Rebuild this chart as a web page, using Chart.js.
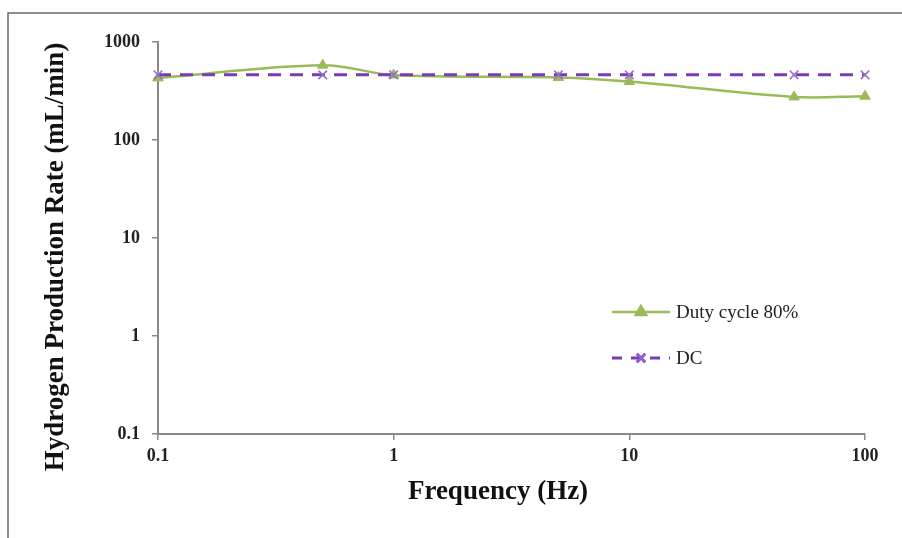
<!DOCTYPE html>
<html>
<head>
<meta charset="utf-8">
<script src="https://cdn.jsdelivr.net/npm/chart.js@4.4.1/dist/chart.umd.min.js"></script>
<style>
  html, body { margin: 0; padding: 0; background: #fff; }
  #wrap { position: relative; width: 902px; height: 538px; }
</style>
</head>
<body>
<div id="wrap"><canvas id="myChart" width="902" height="538"></canvas></div>
<script>
"use strict";

////// data
const frequency = [0.1, 0.5, 1, 5, 10, 50, 100];
const dutyCycle80 = [430, 580, 460, 435, 395, 275, 280];
const dcRate = [462, 462, 462, 462, 462, 462, 462];
const yTicks = [0.1, 1, 10, 100, 1000];
const xTicks = [0.1, 1, 10, 100];

const green = "#9BBB59";
const purple = "#7A3CB4";
const axisGray = "#8a8a8a";
const serif = "'Liberation Serif', 'Times New Roman', serif";

const toPoints = (xs, ys) => xs.map((x, i) => ({ x: x, y: ys[i] }));

////// frame, axis titles and legend drawn on the canvas
const extras = {
  id: "extras",
  beforeDraw(chart) {
    const c = chart.ctx;
    c.save();
    c.strokeStyle = "#6b6b6b";
    c.lineWidth = 1.5;
    c.beginPath();
    c.moveTo(8, 538);
    c.lineTo(8, 13);
    c.lineTo(902, 13);
    c.stroke();
    c.restore();
  },
  afterDraw(chart) {
    const c = chart.ctx;
    c.save();
    c.fillStyle = "#111";
    c.font = "bold 27px " + serif;
    c.textAlign = "center";
    c.textBaseline = "middle";
    c.fillText("Frequency (Hz)", 498, 492);

    c.translate(56, 257);
    c.rotate(-Math.PI / 2);
    c.fillText("Hydrogen Production Rate (mL/min)", 0, 0);
    c.restore();

    // legend
    const sets = chart.data.datasets;
    const rows = [312, 358];
    sets.forEach((ds, i) => {
      const y = rows[i];
      c.save();
      c.strokeStyle = ds.borderColor;
      c.lineWidth = ds.borderWidth;
      if (ds.borderDash) c.setLineDash([10, 9]);
      c.beginPath();
      c.moveTo(612, y);
      c.lineTo(670, y);
      c.stroke();
      c.setLineDash([]);
      Chart.helpers.drawPoint(c, {
        pointStyle: ds.pointStyle,
        radius: ds.pointRadius,
        borderWidth: ds.pointBorderWidth,
        rotation: 0
      }, 641, y);
      c.fillStyle = ds.pointBackgroundColor;
      c.strokeStyle = ds.pointBorderColor;
      c.lineWidth = ds.pointBorderWidth;
      c.fill();
      c.stroke();
      c.fillStyle = "#222";
      c.font = "19px " + serif;
      c.textAlign = "left";
      c.textBaseline = "middle";
      c.fillText(ds.label, 676, y + 1);
      c.restore();
    });
  }
};

const ctx = document.getElementById("myChart");

new Chart(ctx, {
  type: "line",
  data: {
    datasets: [
      {
        label: "Duty cycle 80%",
        data: toPoints(frequency, dutyCycle80),
        order: 2,
        clip: false,
        borderColor: green,
        backgroundColor: green,
        borderWidth: 2.5,
        tension: 0.35,
        pointStyle: "triangle",
        pointRadius: 6,
        pointBorderWidth: 1,
        pointBackgroundColor: green,
        pointBorderColor: green
      },
      {
        label: "DC",
        data: toPoints(frequency, dcRate),
        order: 1,
        clip: false,
        borderColor: purple,
        backgroundColor: purple,
        borderWidth: 3,
        borderDash: [13, 9],
        tension: 0,
        pointStyle: "crossRot",
        pointRadius: 6,
        pointBorderWidth: 1.5,
        pointBackgroundColor: "#9a6fcc",
        pointBorderColor: "#9a6fcc"
      }
    ]
  },
  options: {
    responsive: false,
    animation: false,
    layout: { padding: { top: 42, right: 37, left: 0, bottom: 0 } },
    plugins: {
      legend: { display: false },
      tooltip: { enabled: false }
    },
    scales: {
      x: {
        type: "logarithmic",
        min: 0.1,
        max: 100,
        afterBuildTicks: (scale) => {
          scale.ticks = xTicks.map((v) => ({ value: v }));
        },
        afterFit: (scale) => {
          scale.height = 104;
        },
        grid: {
          display: true,
          drawOnChartArea: false,
          color: axisGray,
          tickLength: 6,
          lineWidth: 1.5
        },
        border: { color: axisGray, width: 2 },
        ticks: {
          autoSkip: false,
          maxRotation: 0,
          padding: 6,
          color: "#222",
          font: { family: serif, size: 18, weight: "bold" },
          callback: (v) => String(v)
        }
      },
      y: {
        type: "logarithmic",
        min: 0.1,
        max: 1000,
        afterBuildTicks: (scale) => {
          scale.ticks = yTicks.map((v) => ({ value: v }));
        },
        afterFit: (scale) => {
          scale.width = 158;
        },
        grid: {
          display: true,
          drawOnChartArea: false,
          color: axisGray,
          tickLength: 6,
          lineWidth: 1.5
        },
        border: { color: axisGray, width: 2 },
        ticks: {
          autoSkip: false,
          padding: 12,
          color: "#222",
          font: { family: serif, size: 18, weight: "bold" },
          callback: (v) => String(v)
        }
      }
    }
  },
  plugins: [extras]
});
</script>
</body>
</html>
